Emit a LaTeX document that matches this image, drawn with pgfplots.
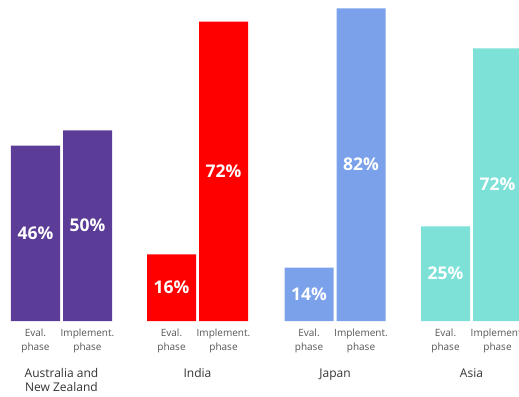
\documentclass[border=0pt]{standalone}
\usepackage{pgfplots}
\pgfplotsset{compat=1.18}
\usepackage{fontspec}
\setmainfont{Open Sans}
\definecolor{ausp}{RGB}{91,60,150}
\definecolor{indr}{RGB}{255,0,0}
\definecolor{japb}{RGB}{123,161,234}
\definecolor{asit}{RGB}{126,225,216}
\definecolor{lbl}{RGB}{85,85,85}
\definecolor{grp}{RGB}{51,51,51}
\pgfplotsset{
  grpaxis/.style={
    scale only axis, width=104bp, height=321bp,
    xmin=-0.5, xmax=1.5, ymin=0,
    axis line style={draw=none}, major tick length=0pt,
    ytick=\empty, xtick={0,1},
    xticklabels={{Eval.\\phase},{Implement.\\phase}},
    xticklabel style={align=center, font=\fontsize{10bp}{14bp}\selectfont, text=lbl, yshift=-4bp},
    xlabel style={font=\fontsize{12bp}{14bp}\selectfont, text=grp, align=center, at={(axis description cs:0.5,0)}, anchor=north, yshift=-44bp},
    ybar, bar width=49bp,
    /pgf/number format/assume math mode=true,
    nodes near coords={\pgfmathprintnumber{\pgfplotspointmeta}\%},
    visualization depends on={rawy \as \rawy},
    every node near coord/.append style={anchor=center, shift={(axis direction cs:0,-\rawy/2)}, text=white, font=\fontsize{17.5bp}{20bp}\selectfont\bfseries},
  }
}
\begin{document}
\begin{tikzpicture}[x=1bp,y=1bp]
\useasboundingbox (0,0) rectangle (519,396);
\clip (0,0) rectangle (519,396);
\begin{axis}[grpaxis, at={(9.5bp,75bp)}, anchor=south west, ymax=84.2, xlabel={Australia and\\New Zealand}]
\addplot[fill=ausp, draw=none] coordinates {(0,46) (1,50)};
\end{axis}
\begin{axis}[grpaxis, at={(145.5bp,75bp)}, anchor=south west, ymax=77.2, xlabel={India}]
\addplot[fill=indr, draw=none] coordinates {(0,16) (1,72)};
\end{axis}
\begin{axis}[grpaxis, at={(283bp,75bp)}, anchor=south west, ymax=84.2, xlabel={Japan}]
\addplot[fill=japb, draw=none] coordinates {(0,14) (1,82)};
\end{axis}
\begin{axis}[grpaxis, at={(419.5bp,75bp)}, anchor=south west, ymax=84.8, xlabel={Asia}]
\addplot[fill=asit, draw=none] coordinates {(0,25) (1,72)};
\end{axis}
\end{tikzpicture}
\end{document}
